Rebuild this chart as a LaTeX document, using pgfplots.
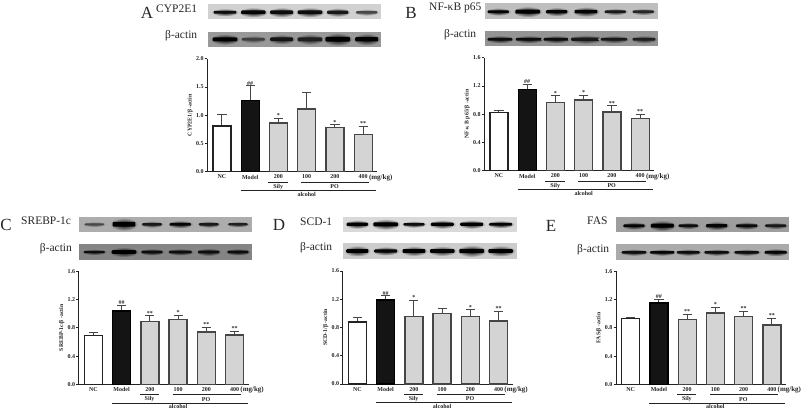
\documentclass[border=0pt]{standalone}
\usepackage{fontspec}
\setmainfont{Liberation Serif}
\usepackage{pgfplots}
\usepackage{pgfplotstable}
\pgfplotsset{compat=1.18}

\definecolor{axdark}{RGB}{35,35,35}
\definecolor{bargray}{RGB}{212,212,212}
\definecolor{baredge}{RGB}{70,70,70}

% value, error (upward), significance
\pgfplotstableread{
x v e sig
0 0.81 0.21 {}
1 1.26 0.26 \#\#
2 0.86 0.09 *
3 1.11 0.30 {}
4 0.78 0.05 *
5 0.66 0.14 **
}\dataA
\pgfplotstableread{
x v e sig
0 0.82 0.03 {}
1 1.15 0.07 \#\#
2 0.97 0.09 *
3 1.00 0.07 *
4 0.83 0.09 **
5 0.74 0.06 **
}\dataB
\pgfplotstableread{
x v e sig
0 0.69 0.04 {}
1 1.04 0.08 \#\#
2 0.89 0.08 **
3 0.92 0.06 *
4 0.74 0.07 **
5 0.70 0.05 **
}\dataC
\pgfplotstableread{
x v e sig
0 0.88 0.06 {}
1 1.19 0.06 \#\#
2 0.96 0.22 *
3 1.00 0.07 {}
4 0.96 0.09 *
5 0.89 0.14 **
}\dataD
\pgfplotstableread{
x v e sig
0 0.93 0.02 {}
1 1.15 0.05 \#\#
2 0.92 0.07 **
3 1.01 0.08 *
4 0.96 0.07 **
5 0.84 0.09 **
}\dataE

% #1 left px, #2 baseline px, #3 ymax, #4 ytick step, #5 y label, #6 table
\newcommand{\panel}[6]{%
\begin{axis}[
    at={(#1pt,-#2pt)}, anchor=south west,
    scale only axis, width=170pt, height=113pt,
    xmin=-0.52, xmax=5.5, ymin=0, ymax=#3,
    axis x line=bottom, axis y line=left,
    axis line style={-, draw=axdark, line width=0.9pt},
    clip=false,
    xtick={0,...,5},
    xticklabels={NC,Model,200,100,200,400},
    ytick distance=#4,
    tick align=outside, major tick length=2.5pt,
    tick style={draw=axdark, line width=0.8pt},
    x tick style={draw=none},
    tick label style={font=\fontsize{6}{7}\selectfont\bfseries, text=axdark, inner sep=1pt},
    xticklabel style={yshift=0.5pt},
    /pgf/number format/assume math mode=true,
    /pgf/number format/fixed, /pgf/number format/fixed zerofill, /pgf/number format/precision=1,
    ylabel={#5},
    ylabel style={font=\fontsize{5.8}{6}\selectfont\bfseries, text=axdark, at={(axis description cs:-0.1,0.5)}, anchor=center},
]
\addplot[ybar, bar width=18pt, bar shift=0pt, draw=baredge, line width=1.3pt, fill=bargray,
    error bars/.cd, y dir=plus, y explicit,
    error bar style={draw=baredge, line width=1pt},
    error mark options={rotate=90, mark size=4.6pt, line width=1pt, draw=baredge}]
    table[x=x, y=v, y error=e] {#6};
% NC and Model drawn again in their own fills
\addplot[ybar, bar width=18pt, bar shift=0pt, draw=axdark, line width=1.3pt, fill=white,
    restrict x to domain=-0.5:0.5]
    table[x=x, y=v] {#6};
\addplot[ybar, bar width=18pt, bar shift=0pt, draw=black, line width=1.3pt, fill=black!92,
    restrict x to domain=0.5:1.5]
    table[x=x, y=v] {#6};
% significance marks sit on top of the error bars
\addplot[draw=none, mark=none, point meta=explicit symbolic,
    nodes near coords, nodes near coords align={anchor=south},
    every node near coord/.style={font=\fontsize{6}{6}\selectfont\bfseries, text=axdark, inner sep=0pt, yshift=0.5pt}]
    table[x=x, y expr=\thisrow{v}+\thisrow{e}, meta=sig] {#6};
\tikzset{grp/.style={font=\fontsize{6}{7}\selectfont\bfseries, text=axdark, inner sep=0pt}}
\draw[axdark, line width=0.7pt] ([yshift=-10.3pt]axis cs:1.64,0) -- ([yshift=-10.3pt]axis cs:2.32,0);
\draw[axdark, line width=0.7pt] ([yshift=-10.3pt]axis cs:2.81,0) -- ([yshift=-10.3pt]axis cs:5.22,0);
\draw[axdark, line width=0.7pt] ([yshift=-18.6pt]axis cs:0.66,0) -- ([yshift=-18.6pt]axis cs:5.46,0);
\node[grp] at ([yshift=-15pt]axis cs:1.99,0) {Sily};
\node[grp] at ([yshift=-15pt]axis cs:3.99,0) {PO};
\node[grp] at ([yshift=-22.6pt]axis cs:3,0) {alcohol};
\node[grp, font=\fontsize{7}{8}\selectfont\bfseries, anchor=west] at ([yshift=-6pt]axis cs:5.2,0) {(mg/kg)};
\end{axis}}

% background strip: #1 x0, #2 y0, #3 x1, #4 y1, #5 gray percent
\newcommand{\strip}[5]{\fill[black!#5] (#1pt,-#2pt) rectangle (#3pt,-#4pt);}
% band with soft edge and flat core: #1 xc, #2 yc, #3 half width, #4 half height, #5 bg, #6 band
\newcommand{\band}[6]{%
  \shade[inner color=black!#6, outer color=black!#5]
    (#1pt,-#2pt) ellipse ({#3pt} and {#4pt});
  \fill[black!#6, rounded corners=1pt]
    ({#1-0.82*#3},{-#2-0.36*#4}) rectangle ({#1+0.82*#3},{-#2+0.36*#4});}

\begin{document}
\begin{tikzpicture}[x=1pt,y=1pt]
\path[use as bounding box] (0,0) rectangle (803pt,-412pt);
\tikzset{lab/.style={font=\fontsize{11.5}{13}\selectfont, text=black!85, inner sep=0pt, anchor=west},
         letter/.style={font=\fontsize{17}{19}\selectfont, text=black!85, inner sep=0pt}}

% panel A blots
\strip{208}{4}{381}{19.3}{18}
\foreach \xc/\hw/\hh/\d in {225/14/4/95,253.3/15/5/98,281.7/14/5/95,310/15/5/95,337.7/13/4.5/90,366.7/13/3.5/72}
  {\band{\xc}{12.3}{\hw}{\hh}{18}{\d}}
\strip{208}{31.7}{381}{46.7}{40}
\foreach \xc/\hw/\hh/\d in {225/15/5.5/100,253.3/14/4/75,281.7/14/5/92,310/15/5.5/88,337.7/15/6.5/100,366.7/14/6/100}
  {\band{\xc}{39.3}{\hw}{\hh}{40}{\d}}
\node[letter] at (147pt,-13pt) {A};
\node[lab] at (156pt,-9pt) {CYP2E1};
\node[lab] at (165pt,-36pt) {β-actin};

% panel B blots
\strip{485}{3.3}{658.3}{19}{25}
\foreach \xc/\hw/\hh/\d in {498.3/13/4/98,527.7/15/5.5/100,556.7/13/4.5/98,586/14/5/98,615.3/13/3.5/90,643.3/13/3.5/85}
  {\band{\xc}{11.7}{\hw}{\hh}{25}{\d}}
\strip{485}{31}{658.3}{46}{42}
\foreach \xc/\hw/\hh/\d in {500/15/4/95,529/16/4/95,556/15/4/95,586/18/4.5/90,614/16/4/90,644/14/4/88}
  {\band{\xc}{39.3}{\hw}{\hh}{42}{\d}}
\node[letter] at (411pt,-13pt) {B};
\node[lab] at (429pt,-8pt) {NF-κB p65};
\node[lab] at (444pt,-35pt) {β-actin};

% panel C blots
\strip{78.7}{216.7}{251.7}{232.3}{32}
\foreach \xc/\hw/\hh/\d in {94.3/12/2.8/72,124/14/6.5/100,152/12/3.5/90,180.3/13/4/98,208.7/12/3.5/90,238/12/3/88}
  {\band{\xc}{224.3}{\hw}{\hh}{32}{\d}}
\strip{78.7}{244.3}{251.7}{260}{48}
\foreach \xc/\hw/\hh/\d in {94.3/13/3/95,124/15/5/100,152/13/3.5/95,180.3/14/3.5/95,208.7/13/4/95,238/13/3.5/95}
  {\band{\xc}{252}{\hw}{\hh}{48}{\d}}
\node[letter] at (6pt,-225pt) {C};
\node[lab] at (21pt,-221pt) {SREBP-1c};
\node[lab] at (39.7pt,-249pt) {β-actin};

% panel D blots
\strip{343.3}{216.7}{516.7}{231.7}{15}
\foreach \xc/\hw/\hh/\d in {357.3/13/4.5/100,385.7/15/5.5/100,414/13/3.5/95,442.3/14/4.5/100,471.7/14/4.5/100,500.7/14/4/98}
  {\band{\xc}{224.3}{\hw}{\hh}{15}{\d}}
\strip{343.3}{243.3}{516.7}{259}{20}
\foreach \xc/\hw/\hh/\d in {357.3/13.5/5.5/100,385.7/14/4.5/98,414/14/5/100,442.3/15/5/98,471.7/15/6/100,500.7/15/5.5/100}
  {\band{\xc}{251}{\hw}{\hh}{20}{\d}}
\node[letter] at (279pt,-225pt) {D};
\node[lab] at (300pt,-222pt) {SCD-1};
\node[lab] at (300pt,-248pt) {β-actin};

% panel E blots
\strip{616}{216.7}{789.3}{232.3}{38}
\foreach \xc/\hw/\hh/\d in {634/13/4/98,662.3/14/5.5/100,688.3/12/3.5/95,716.7/13/4.5/98,746.7/13/4/96,775.7/13/3.5/90}
  {\band{\xc}{225.7}{\hw}{\hh}{38}{\d}}
\strip{616}{244.3}{789.3}{260}{33}
\foreach \xc/\hw/\hh/\d in {634/15/3.5/95,662.3/15/3.5/98,688.3/14/3.5/95,716.7/15/3.5/95,746.7/15/3.5/95,775.7/13.5/4/98}
  {\band{\xc}{252.3}{\hw}{\hh}{33}{\d}}
\node[letter] at (551pt,-226pt) {E};
\node[lab] at (587pt,-221pt) {FAS};
\node[lab] at (577pt,-250pt) {β-actin};

\panel{207.3}{171.7}{2.0}{0.5}{CYP2E1/β -actin}{\dataA}
\panel{484.3}{170.7}{1.6}{0.4}{NF-κ B p65/β -actin}{\dataB}
\panel{78.7}{384.3}{1.6}{0.4}{SREBP-1c/β -actin}{\dataC}
\panel{342.7}{384}{1.6}{0.4}{SCD-1/β -actin}{\dataD}
\panel{616}{384.3}{1.6}{0.4}{FAS/β -actin}{\dataE}
\end{tikzpicture}
\end{document}
